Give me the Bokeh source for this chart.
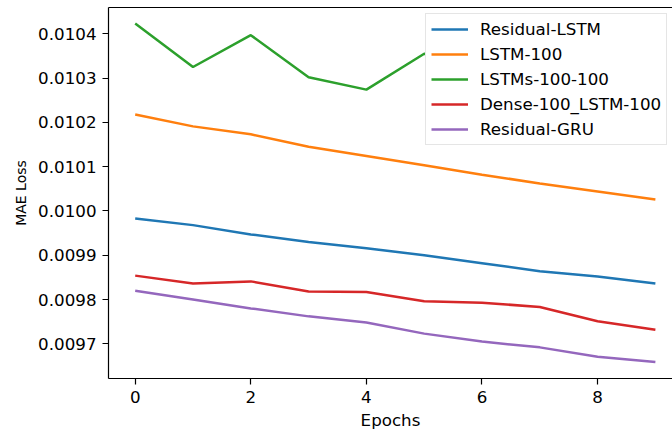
from bokeh.plotting import figure
from bokeh.models import Legend, LegendItem, FixedTicker, LinearAxis, PrintfTickFormatter
from bokeh.embed import file_html
from bokeh.resources import INLINE

epochs = [0, 1, 2, 3, 4, 5, 6, 7, 8, 9]

residual_lstm = [0.009983, 0.009968, 0.009947, 0.009930, 0.009916, 0.009900, 0.009882, 0.009864, 0.009852, 0.009836]
lstm_100 = [0.010218, 0.010191, 0.010173, 0.010145, 0.010124, 0.010103, 0.010082, 0.010062, 0.010044, 0.010026]
lstms_100_100 = [0.010423, 0.010325, 0.010397, 0.010302, 0.010274, 0.010355, 0.010340, 0.010325, 0.010318, 0.010310]
dense_100_lstm_100 = [0.009854, 0.009836, 0.009841, 0.009818, 0.009817, 0.009796, 0.009793, 0.009783, 0.009751, 0.009732]
residual_gru = [0.009820, 0.009800, 0.009780, 0.009762, 0.009748, 0.009723, 0.009705, 0.009692, 0.009671, 0.009659]

series_names = ["Residual-LSTM", "LSTM-100", "LSTMs-100-100", "Dense-100_LSTM-100", "Residual-GRU"]
series_values = [residual_lstm, lstm_100, lstms_100_100, dense_100_lstm_100, residual_gru]
colors = ["#1f77b4", "#ff7f0e", "#2ca02c", "#d62728", "#9467bd"]

x_ticks = [0, 2, 4, 6, 8]
y_ticks = [0.0097, 0.0098, 0.0099, 0.0100, 0.0101, 0.0102, 0.0103, 0.0104]

FONT = "DejaVu Sans"
FS = "16.7px"

p = figure(width=672, height=434, output_backend="svg", toolbar_location=None,
           x_range=(-0.462, 9.296), y_range=(0.0096217, 0.0104594),
           min_border_left=108, min_border_right=0, min_border_top=7, min_border_bottom=56)

p.background_fill_color = "white"
p.border_fill_color = "white"
p.outline_line_color = None
p.grid.visible = False

items = []
for name, vals, c in zip(series_names, series_values, colors):
    r = p.line(epochs, vals, line_color=c, line_width=2.5)
    items.append(LegendItem(label=name, renderers=[r]))

for ax in (p.xaxis[0], p.yaxis[0]):
    ax.axis_line_color = "black"
    ax.axis_line_width = 1.2
    ax.major_tick_line_color = "black"
    ax.major_tick_line_width = 1.2
    ax.major_tick_out = 6
    ax.major_tick_in = 0
    ax.minor_tick_line_color = None
    ax.major_label_text_font = FONT
    ax.major_label_text_font_size = FS
    ax.major_label_text_color = "black"
    ax.axis_label_text_font = FONT
    ax.axis_label_text_font_size = FS
    ax.axis_label_text_font_style = "normal"
    ax.axis_label_text_color = "black"

p.xaxis[0].ticker = FixedTicker(ticks=x_ticks)
p.yaxis[0].ticker = FixedTicker(ticks=y_ticks)
p.yaxis[0].formatter = PrintfTickFormatter(format="%.4f")
p.xaxis[0].axis_label = "Epochs"
p.yaxis[0].axis_label = "MAE Loss"
p.yaxis[0].axis_label_text_font_size = "14px"
p.xaxis[0].major_label_standoff = 6
p.yaxis[0].major_label_standoff = 6
p.xaxis[0].axis_label_standoff = 4
p.yaxis[0].axis_label_standoff = 6

top = LinearAxis(ticker=FixedTicker(ticks=[]), major_tick_out=0, major_tick_in=0,
                 minor_tick_out=0, minor_tick_in=0, major_label_text_font_size="0px",
                 axis_line_color="black", axis_line_width=1.2, major_label_standoff=0)
p.add_layout(top, "above")

legend = Legend(items=items, location=(317, 233), orientation="vertical",
                label_text_font=FONT, label_text_font_size=FS, label_text_color="black",
                glyph_width=37, glyph_height=20, label_height=20, label_standoff=12,
                spacing=5, padding=5, margin=0,
                border_line_color="#cccccc", border_line_width=1,
                background_fill_color="white", background_fill_alpha=1.0)
p.add_layout(legend, "center")

open("out.html", "w").write(file_html(p, INLINE))
